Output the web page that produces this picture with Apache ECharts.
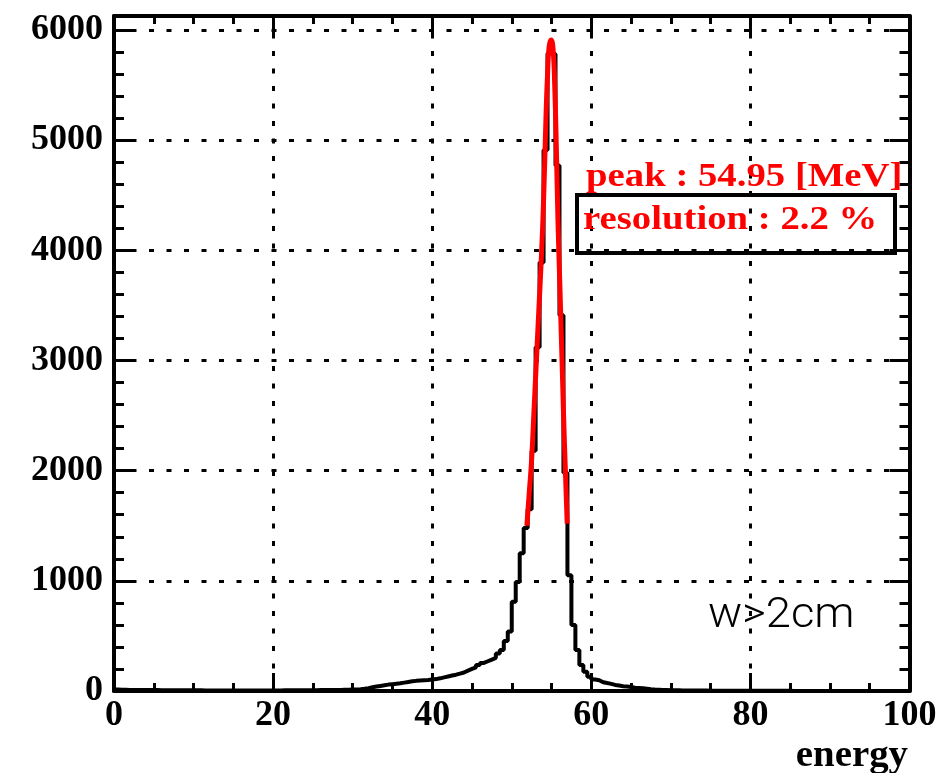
<!DOCTYPE html>
<html><head><meta charset="utf-8">
<script src="https://cdn.jsdelivr.net/npm/echarts@6/dist/echarts.min.js"></script>
<style>html,body{margin:0;padding:0;background:#fff}#c{width:952px;height:773px}</style>
</head><body><div id="c"></div>
<script>
// Histogram: 200 bins of width 0.5 from 0 to 100
const binLow = 0;
const binWidth = 0.5;
const counts = [
  14,12,11,10,10,9,9,8,8,8,
  8,7,7,7,7,6,6,6,6,6,
  6,6,5,5,5,5,5,5,5,5,
  5,5,5,5,5,5,5,5,5,5,
  5,5,6,6,6,6,6,7,7,7,
  7,8,8,9,9,10,10,11,12,13,
  14,16,20,26,34,40,46,52,58,62,
  66,70,76,82,88,92,95,98,100,104,
  108,115,124,132,140,148,158,168,185,200,
  215,236,255,270,285,300,340,372,454,540,
  810,990,1250,1480,1650,2180,3120,3890,4910,5790,
  5780,4770,3410,1980,1050,600,372,236,175,130,
  105,98,80,72,65,55,50,44,40,36,
  30,27,24,20,16,13,11,9,8,7,
  6,6,5,5,5,4,4,4,4,3,
  3,3,3,3,3,3,2,2,2,2,
  2,2,2,2,2,2,2,2,2,2,
  1,1,1,1,1,1,1,1,1,1,
  1,1,1,1,1,1,1,1,1,1,
  1,1,1,1,1,1,1,1,1,1
];
// Fit curve (red)
const fitE = [51.9, 52.2, 52.5, 52.8, 53.1, 53.4, 53.7, 54.0, 54.3, 54.5, 54.7, 54.95, 55.2, 55.4, 55.6, 55.8, 56.0, 56.2, 56.4, 56.6, 56.97];
const fitV = [1500, 1800, 2100, 2550, 3000, 3450, 3900, 4450, 5200, 5600, 5850, 5910, 5820, 5500, 4950, 4300, 3800, 3300, 2800, 2300, 1520];
// Axes
const xMin = 0, xMax = 100, xMajor = 20, xMinor = 5;
const yMin = 0, yMax = 6127, yMajor = 1000, yMinor = 200;
const xTitle = 'energy';
const peakText = 'peak : 54.95 [MeV]';
const resText = 'resolution : 2.2 %';
const cutText = 'w>2cm';

const histData = counts.map((v, i) => [binLow + i * binWidth, v]);
histData.push([binLow + counts.length * binWidth, counts[counts.length - 1]]);
const fitData = fitE.map((e, i) => [e, fitV[i]]);

const black = '#000';
const labelFont = {fontFamily: 'Liberation Serif', fontWeight: 'bold', fontSize: 36, color: black};
const gridDots = {show: true, lineStyle: {color: black, width: 3, type: [5, 12.5]}};

function xAx(pos, major, showLabel) {
  return {
    type: 'value', min: xMin, max: xMax, interval: major ? xMajor : xMinor, position: pos,
    axisLine: {show: major, onZero: false, lineStyle: {color: black, width: 4}},
    axisTick: {show: true, inside: true, length: major ? 18 : 8, lineStyle: {color: black, width: 3}},
    axisLabel: showLabel ? Object.assign({show: true, margin: 7}, labelFont) : {show: false},
    splitLine: (major && showLabel) ? gridDots : {show: false}
  };
}
function yAx(pos, major, showLabel) {
  return {
    type: 'value', min: yMin, max: yMax, interval: major ? yMajor : yMinor, position: pos,
    axisLine: {show: major, onZero: false, lineStyle: {color: black, width: 4}},
    axisTick: {show: true, inside: true, length: major ? 20 : 10, lineStyle: {color: black, width: 3}},
    axisLabel: showLabel ? Object.assign({show: true, margin: 11,
      formatter: v => (v % yMajor === 0 ? String(v) : '')}, labelFont) : {show: false},
    splitLine: (major && showLabel) ? gridDots : {show: false}
  };
}

const chart = echarts.init(document.getElementById('c'), null, {renderer: 'canvas'});
chart.setOption({
  animation: false,
  backgroundColor: '#fff',
  grid: {left: 114, right: 42.5, top: 16, bottom: 82, containLabel: false},
  xAxis: [xAx('bottom', true, true), xAx('bottom', false, false), xAx('top', true, false), xAx('top', false, false)],
  yAxis: [yAx('left', true, true), yAx('left', false, false), yAx('right', true, false), yAx('right', false, false)],
  series: [
    {type: 'line', xAxisIndex: 0, yAxisIndex: 0, data: histData, step: 'end', showSymbol: false,
     lineStyle: {color: black, width: 4}, z: 3},
    {type: 'line', xAxisIndex: 0, yAxisIndex: 0, data: fitData, smooth: true, showSymbol: false,
     lineStyle: {color: '#ff0000', width: 5}, z: 4}
  ],
  graphic: [
    {type: 'rect', shape: {x: 577, y: 195, width: 318, height: 58}, style: {fill: 'none', stroke: black, lineWidth: 4}, z: 10},
    {type: 'text', x: 586, y: 177, scaleX: 1.14, z: 11,
     style: {text: peakText, x: 0, y: 0, fill: '#ff0000', font: 'bold 34px "Liberation Serif"', align: 'left', verticalAlign: 'middle'}},
    {type: 'text', x: 583, y: 220, scaleX: 1.14, z: 11,
     style: {text: resText, x: 0, y: 0, fill: '#ff0000', font: 'bold 34px "Liberation Serif"', align: 'left', verticalAlign: 'middle'}},
    {type: 'text', x: 708, y: 616, scaleX: 1.08, z: 11,
     style: {text: cutText, x: 0, y: 0, fill: black, font: '300 42px Roboto, "Liberation Sans"', align: 'left', verticalAlign: 'middle'}},
    {type: 'text', x: 908, y: 756, scaleX: 1.05, z: 11,
     style: {text: xTitle, x: 0, y: 0, fill: black, font: 'bold 37px "Liberation Serif"', align: 'right', verticalAlign: 'middle'}}
  ]
});
</script>
</body></html>
